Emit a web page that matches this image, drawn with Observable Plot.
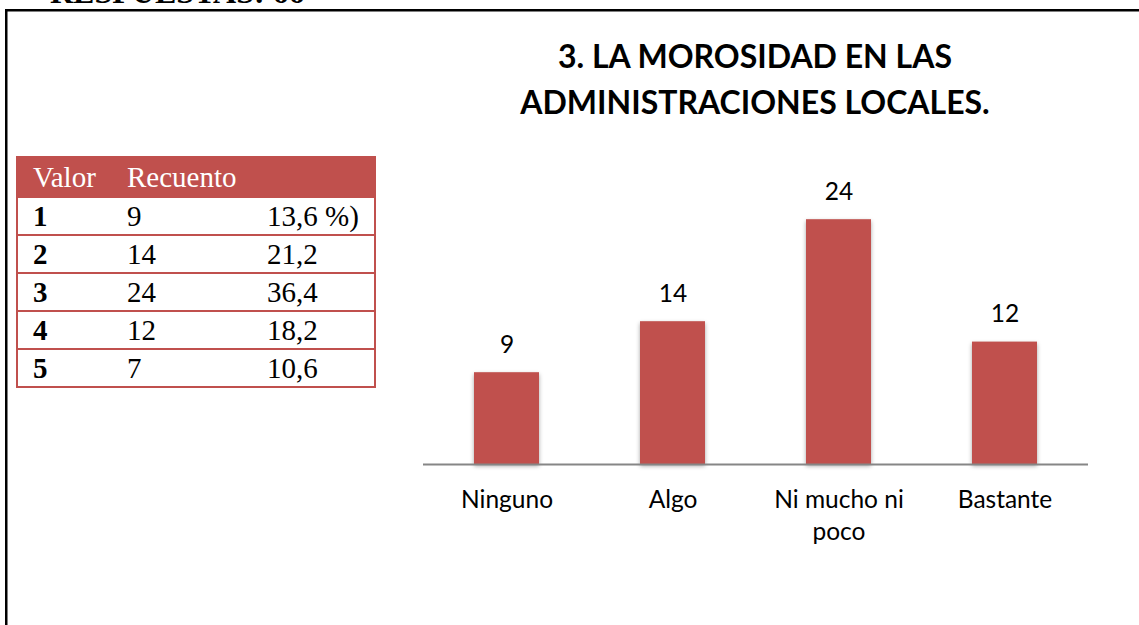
<!DOCTYPE html>
<html>
<head>
<meta charset="utf-8">
<script src="https://cdn.jsdelivr.net/npm/d3@7"></script>
<script src="https://cdn.jsdelivr.net/npm/@observablehq/plot@0.6"></script>
<style>
  html, body { margin: 0; padding: 0; background: #fff; overflow: hidden; }
  body { width: 1139px; height: 625px; position: relative; }
  #frame { position: absolute; left: 0; top: 0; }
  #respuestas { position: absolute; left: 50px; top: -24px; font: bold 32px "Liberation Serif", serif; line-height: 32px; color: #000; white-space: nowrap; }
  #title { position: absolute; left: 455px; width: 600px; top: 33px; text-align: center; font: bold 32px Lato, sans-serif; line-height: 46px; color: #000; }
  #tbl { position: absolute; left: 16px; top: 156px; width: 358px; border-collapse: collapse; table-layout: fixed; font: 29px "Liberation Serif", serif; color: #000; border: 2.5px solid #C0504D; }
  #tbl td, #tbl th { padding: 0; height: 36px; line-height: 36px; border-bottom: 2.5px solid #C0504D; text-align: left; font-weight: normal; white-space: nowrap; }
  #tbl th { background: #C0504D; color: #fff; height: 38px; }
  #tbl td.k { font-weight: bold; }
  #chart { position: absolute; left: 0; top: 0; }
</style>
</head>
<body>
<svg id="frame" width="1139" height="625"><path d="M6.25,625V10.25H1139" fill="none" stroke="#000" stroke-width="2.5"/></svg>
<div id="respuestas">RESPUESTAS: 66</div>
<div id="title"></div>
<table id="tbl"></table>
<div id="chart"></div>
<script>
const titleLines = ["3. LA MOROSIDAD EN LAS", "ADMINISTRACIONES LOCALES."];
const tableHeader = ["Valor", "Recuento", ""];
const tableValor = ["1", "2", "3", "4", "5"];
const tableRecuento = ["9", "14", "24", "12", "7"];
const tablePorcentaje = ["13,6 %)", "21,2", "36,4", "18,2", "10,6"];

const categories = ["Ninguno", "Algo", "Ni mucho ni\npoco", "Bastante"];
const counts = [9, 14, 24, 12];

document.getElementById("title").innerHTML = titleLines.join("<br>");

const tbl = document.getElementById("tbl");
const colW = [110, 140, 108];
let html = "<colgroup>" + colW.map(w => `<col style="width:${w}px">`).join("") + "</colgroup>";
html += "<tr>" + tableHeader.map((h, i) => `<th style="padding-left:${i===0?15:0}px">${h}</th>`).join("") + "</tr>";
tableValor.forEach((v, i) => {
  html += `<tr><td class="k" style="padding-left:15px">${v}</td><td>${tableRecuento[i]}</td><td>${tablePorcentaje[i]}</td></tr>`;
});
tbl.innerHTML = html;

const data = categories.map((c, i) => ({ category: c, value: counts[i] }));
const barColor = "#C0504D";
const font = "Lato, sans-serif";

const plot = Plot.plot({
  width: 1139,
  height: 625,
  marginLeft: 423,
  marginRight: 51,
  marginTop: 158,
  marginBottom: 161,
  style: { background: "transparent", fontFamily: font, color: "#000", overflow: "hidden" },
  x: { domain: categories, paddingInner: 0.61, paddingOuter: 0.305, label: null },
  y: { domain: [0, 30], axis: null },
  marks: [
    Plot.barY(data, { x: "category", y: "value", fill: barColor }),
    Plot.ruleY([0], { stroke: "#868686", strokeWidth: 2 }),
    Plot.text(data, { x: "category", y: "value", text: d => String(d.value), lineAnchor: "bottom", dy: -20, fontSize: 24.5, fill: "#000" }),
    Plot.axisX({ tickSize: 0, tickPadding: 21, fontSize: 24.5, lineHeight: 1.3, label: null, fill: "#000" })
  ]
});
plot.querySelectorAll('g[aria-label="bar"] rect').forEach(r => {
  r.style.filter = "drop-shadow(0px 2px 2px rgba(0,0,0,0.35))";
});
document.getElementById("chart").appendChild(plot);
</script>
</body>
</html>
